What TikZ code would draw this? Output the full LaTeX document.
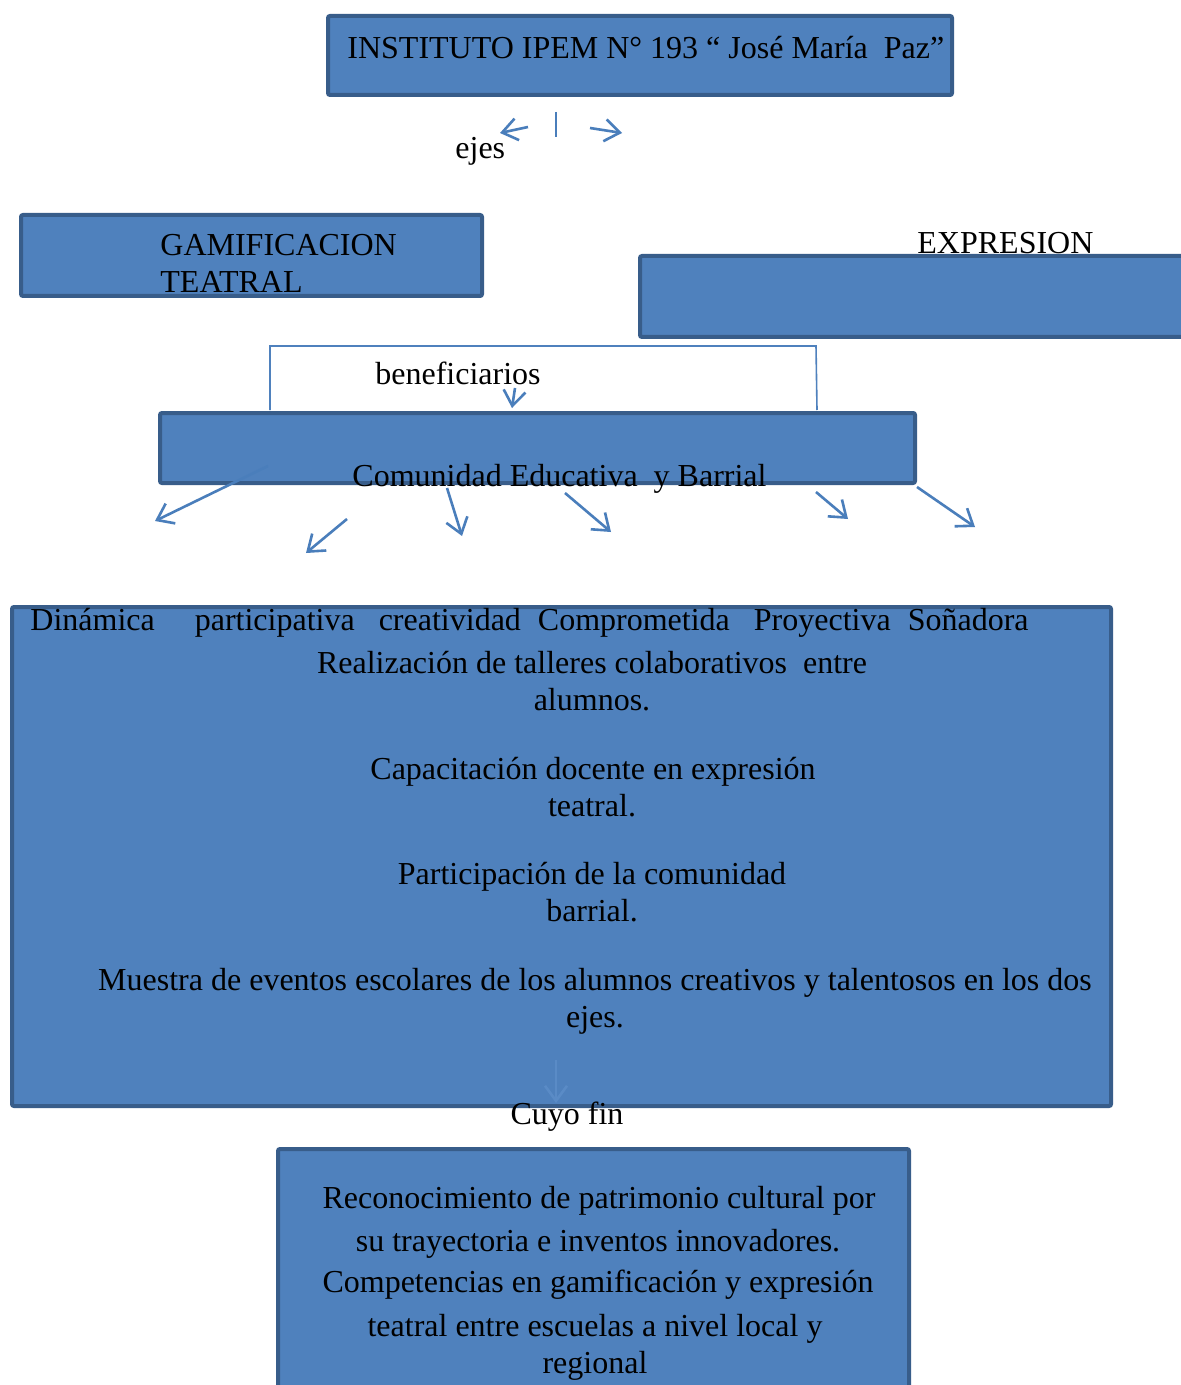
\documentclass[tikz,border=0pt]{standalone}
\usepackage{fontspec}
\setmainfont{Liberation Serif}
\usetikzlibrary{arrows.meta,fit}
\definecolor{boxfill}{HTML}{4F81BD}
\definecolor{boxedge}{HTML}{385D8A}
\definecolor{arrowc}{HTML}{4A7EBB}
\definecolor{faintc}{HTML}{5A8BC6}
\begin{document}
\begin{tikzpicture}[x=0.5pt,y=-0.5pt,
  box/.style={draw=boxedge, fill=boxfill, line width=2pt, inner sep=0pt, rounded corners=1pt},
  txt/.style={inner sep=0pt, anchor=base, font=\fontsize{16}{18}\selectfont},
  txtw/.style={txt, anchor=base west},
  conn/.style={draw=arrowc, line width=1.3pt, -{Straight Barb[length=7.5pt,width=11pt]}},
  bracketline/.style={draw=boxfill, line width=0.8pt}]
\clip (0,0) rectangle (1181,1385);
\fill[white] (0,0) rectangle (1181,1385);

% boxes
\node[box, fit={(328,16) (952,95)}] (inst) {};
\node[box, fit={(21,215) (482,296)}] (gam) {};
\node[box, fit={(640,256) (1200,337)}] (expr) {};

% bracket behind community box
\coordinate (bl) at (270,410);
\coordinate (br) at (817,410);
\draw[bracketline] (bl) -- (270,346) -- (816,346) -- (br);

\node[box, fit={(160,413) (915,483)}] (com) {};
\node[box, fit={(12,607) (1111,1106)}] (big) {};
\node[box, fit={(278,1149) (909,1400)}] (fin) {};

% texts
\node[txtw] (t-inst) at (347,59) {INSTITUTO IPEM N° 193 “ José María\ \ Paz”};
\node[txtw] (t-ejes) at (455,159) {ejes};
\node[txtw, align=left, font=\fontsize{16}{18.5}\selectfont] (t-gam) at (160,293) {GAMIFICACION\\TEATRAL};
\node[txtw] (t-expr) at (917,254) {EXPRESION};
\node[txtw] (t-ben) at (375,384) {beneficiarios};
\node[txtw] (t-com) at (352,486) {Comunidad Educativa\ \ y Barrial};
\node[txtw] (t-din) at (30,630) {Dinámica\hspace{20pt}participativa\hspace{12pt}creatividad\hspace{8.5pt}Comprometida\hspace{12pt}Proyectiva\hspace{8.5pt}Soñadora};
\node[txt] (t-l1) at (592,673) {Realización de talleres colaborativos\ \ entre};
\node[txt] (t-l2) at (592,710) {alumnos.};
\node[txt] (t-l3) at (593,779) {Capacitación docente en expresión};
\node[txt] (t-l4) at (592,816) {teatral.};
\node[txt] (t-l5) at (592,884) {Participación de la comunidad};
\node[txt] (t-l6) at (592,921) {barrial.};
\node[txt] (t-l7) at (595,990) {Muestra de eventos escolares de los alumnos creativos y talentosos en los dos};
\node[txt] (t-l8) at (595,1027) {ejes.};
\node[txt] (t-cuyo) at (567,1124) {Cuyo fin};
\node[txt] (t-f1) at (599,1208) {Reconocimiento de patrimonio cultural por};
\node[txt] (t-f2) at (598,1251) {su trayectoria e inventos innovadores.};
\node[txt] (t-f3) at (598,1292) {Competencias en gamificación y expresión};
\node[txt] (t-f4) at (595,1336) {teatral entre escuelas a nivel local y};
\node[txt] (t-f5) at (595,1373) {regional};

% connectors
\coordinate (tick1) at (556,112);
\coordinate (tick2) at (556,137);
\draw[draw=arrowc, line width=1.1pt] (tick1) -- (tick2);
\coordinate (la1) at (528,127); \coordinate (la2) at (500,133);
\draw[conn] (la1) -- (la2);
\coordinate (ra1) at (590,128); \coordinate (ra2) at (622,133);
\draw[conn] (ra1) -- (ra2);

\coordinate (bn1) at (515,388); \coordinate (bn2) at (512,408);
\draw[conn] (bn1) -- (bn2);

\coordinate (d1s) at (268,466); \coordinate (d1e) at (155,521);
\coordinate (d2s) at (347,519); \coordinate (d2e) at (306,553);
\coordinate (d3s) at (447,488); \coordinate (d3e) at (462,536);
\coordinate (d4s) at (565,493); \coordinate (d4e) at (611,532);
\coordinate (d5s) at (816,492); \coordinate (d5e) at (848,519);
\coordinate (d6s) at (917,487); \coordinate (d6e) at (975,527);
\foreach \i in {1,...,6} {\draw[conn] (d\i s) -- (d\i e);}

\coordinate (cf1) at (556,1060); \coordinate (cf2) at (556,1103);
\draw[conn, draw=faintc] (cf1) -- (cf2);
\end{tikzpicture}
\end{document}
